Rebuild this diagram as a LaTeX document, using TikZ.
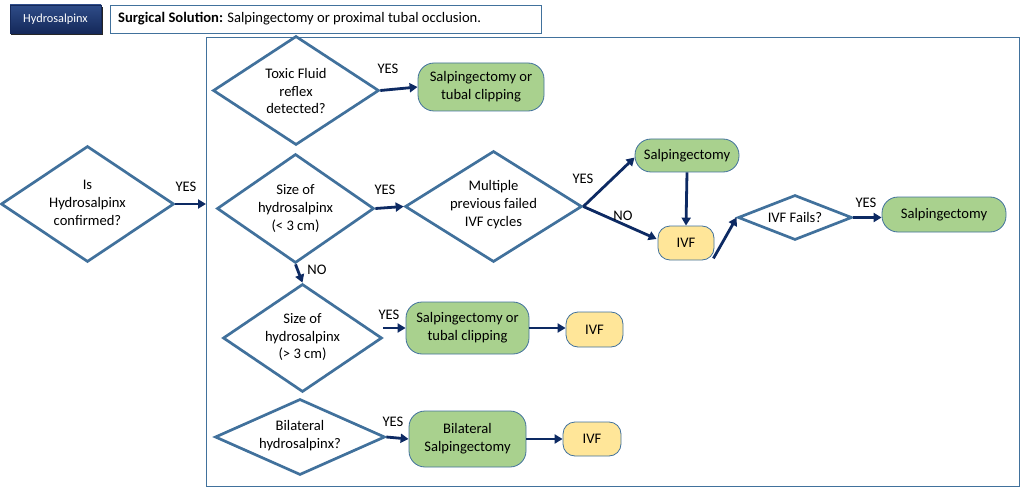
\documentclass[tikz,border=0pt]{standalone}
\usepackage{fontspec}
\setmainfont{Carlito}
\usetikzlibrary{shapes.geometric,arrows.meta,calc,shadows}
\definecolor{dblue}{HTML}{41719C}
\definecolor{navy}{HTML}{0D2A63}
\definecolor{gfill}{HTML}{A9D18E}
\definecolor{yfill}{HTML}{FFE699}
\definecolor{hdtop}{HTML}{2E4C88}
\definecolor{hdbot}{HTML}{15295A}
\begin{document}
\begin{tikzpicture}[x=1pt,y=-1pt,
  every node/.style={font=\fontsize{14.6}{17.9}\selectfont},
  dia/.style={shape=diamond, draw=dblue, line width=2.7pt, inner sep=0pt, fill=white},
  dtext/.style={align=center, inner sep=0pt},
  gbox/.style={rectangle, rounded corners=16pt, draw=dblue, fill=gfill, line width=0.8pt, align=center, inner sep=0pt},
  ybox/.style={rectangle, rounded corners=12pt, draw=dblue, fill=yfill, line width=0.8pt, align=center, inner sep=0pt},
  arr/.style={draw=navy, line width=2.8pt, -{Triangle[length=8pt,width=9pt]}},
  lbl/.style={inner sep=0pt}
]
\useasboundingbox (0,0) rectangle (1023,492);
% header
\fill[black!85] (11,7) rectangle (103,35);
\node[rectangle, minimum width=91pt, minimum height=28pt, inner sep=0pt, top color=hdtop, bottom color=hdbot, draw=hdbot, line width=0.6pt, text=white, font=\fontsize{12.3}{14}\selectfont] (hdr) at (55.5,19) {Hydrosalpinx};
\node[rectangle, draw=dblue, line width=0.8pt, minimum width=431pt, minimum height=28pt, inner sep=0pt] (sol) at (325.5,19) {};
\node[anchor=west, inner sep=0pt] (soltxt) at (118,19) {\textbf{Surgical Solution:} Salpingectomy or proximal tubal occlusion.};
% container
\draw[dblue, line width=0.9pt] (206,37) rectangle (1019,486);
\coordinate (cin) at (206,204);

% diamonds
\node[dia, minimum width=173pt, minimum height=116pt] (d1) at (87.5,204) {};
\node[dtext] (d1t) at (87.5,203) {Is\\Hydrosalpinx\\confirmed?};

\node[dia, minimum width=166pt, minimum height=109pt] (d3) at (296,90.5) {};
\node[dtext] (d3t) at (296,91) {Toxic Fluid\\reflex\\detected?};

\node[dia, minimum width=157pt, minimum height=109pt] (d2) at (295.5,208.5) {};
\node[dtext] (d2t) at (295.5,208.5) {Size of\\hydrosalpinx\\(< 3 cm)};

\node[dia, minimum width=177pt, minimum height=111pt] (d4) at (493.5,206.5) {};
\node[dtext] (d4t) at (493.5,205) {Multiple\\previous failed\\IVF cycles};

\node[dia, minimum width=114pt, minimum height=45pt] (d5f) at (795,217.5) {};
\node[dtext] (d5ft) at (795,217) {IVF Fails?};

\node[dia, minimum width=159pt, minimum height=108pt] (d5) at (302.5,338) {};
\node[dtext] (d5t) at (302.5,337) {Size of\\hydrosalpinx\\(> 3 cm)};

\node[dia, minimum width=170pt, minimum height=76pt] (d6) at (300,437) {};
\node[dtext] (d6t) at (300,436) {Bilateral\\hydrosalpinx?};

% boxes
\node[gbox, minimum width=126pt, minimum height=48pt] (g1) at (481,87) {Salpingectomy or\\tubal clipping};
\node[gbox, minimum width=104pt, minimum height=33pt] (s2) at (687,155.5) {Salpingectomy};
\node[ybox, minimum width=56pt, minimum height=34pt] (ivf1) at (686,243) {IVF};
\node[gbox, minimum width=124pt, minimum height=35pt] (s3) at (944,214.5) {Salpingectomy};
\node[gbox, minimum width=123pt, minimum height=52pt] (g3) at (467.5,328) {Salpingectomy or\\tubal clipping};
\node[ybox, minimum width=57pt, minimum height=35pt] (ivf2) at (594.5,329.5) {IVF};
\node[gbox, minimum width=117pt, minimum height=56pt] (g4) at (467.5,439) {Bilateral\\Salpingectomy};
\node[ybox, minimum width=58pt, minimum height=34pt] (ivf3) at (592,439) {IVF};

% arrows
\draw[arr] (d1.east) -- (cin);
\draw[arr] (d3.east) -- (g1.west);
\draw[arr] (d2.east) -- (d4.west);
\draw[arr] (d4.east) -- ($(s2.west)+(0,2)$);
\draw[arr] (d4.east) -- ($(ivf1.west)+(-1,-4)$);
\draw[arr] (s2.south) -- (ivf1.north);
\draw[arr] ($(ivf1.south east)+(-1,-2)$) -- (d5f.west);
\draw[arr] (d5f.east) -- (s3.west |- d5f.east);
\draw[arr] (d2.south) -- (d5.north);
\draw[arr] (d5.east |- g3.west) -- (g3.west);
\draw[arr] (g3.east) -- (ivf2.west |- g3.east);
\draw[arr] (d6.east) -- (g4.west);
\draw[arr] (g4.east) -- (ivf3.west);

% labels
\node[lbl] (l1) at (186,187) {YES};
\node[lbl] (l2) at (388,69) {YES};
\node[lbl] (l3) at (385,190) {YES};
\node[lbl] (l4) at (583,179) {YES};
\node[lbl] (l5) at (623,216) {NO};
\node[lbl] (l6) at (866,203) {YES};
\node[lbl] (l7) at (317,270) {NO};
\node[lbl] (l8) at (389,315) {YES};
\node[lbl] (l9) at (393,422) {YES};
\end{tikzpicture}
\end{document}
